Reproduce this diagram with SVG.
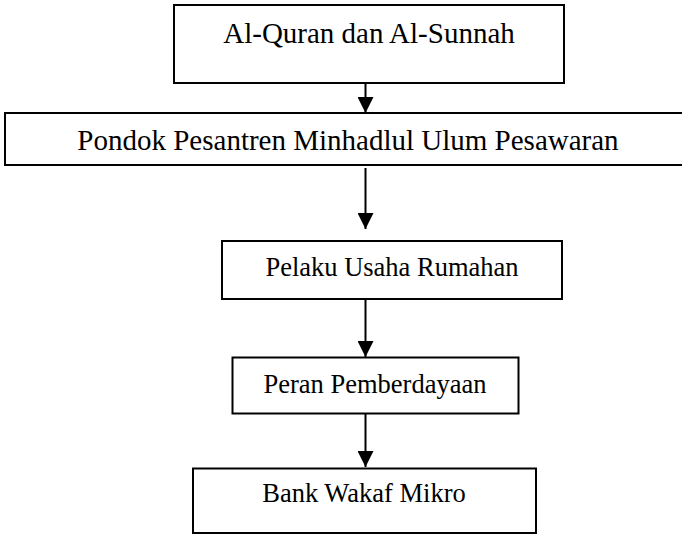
<svg xmlns="http://www.w3.org/2000/svg" width="682" height="535" viewBox="0 0 682 535">
<style>
.box{fill:#fff;stroke:#000;stroke-width:2}
.t1{font-family:"Liberation Serif","Times New Roman",serif;font-size:29px;fill:#000;text-anchor:middle}
.t2{font-family:"Liberation Serif","Times New Roman",serif;font-size:26.5px;fill:#000;text-anchor:middle}
.conn{stroke:#000;stroke-width:2;fill:none;marker-end:url(#ah)}
</style>
<defs>
<marker id="ah" markerUnits="userSpaceOnUse" markerWidth="16" markerHeight="16" refX="16" refY="8" orient="auto" viewBox="0 0 16 16">
<path d="M0,0 L16,8 L0,16 z" fill="#000"/>
</marker>
</defs>
<rect width="682" height="535" fill="#fff"/>
<g id="connectors">
<path class="conn" d="M365.5,83 L365.5,113"/>
<path class="conn" d="M365.5,168 L365.5,229"/>
<path class="conn" d="M365.5,299 L365.5,357"/>
<path class="conn" d="M365.5,413 L365.5,467"/>
</g>
<g id="n1">
<rect class="box" x="174" y="5" width="390" height="78"/>
<text class="t1" x="369" y="43">Al-Quran dan Al-Sunnah</text>
</g>
<g id="n2">
<rect class="box" x="5" y="113" width="690" height="52"/>
<text class="t1" x="348" y="150">Pondok Pesantren Minhadlul Ulum Pesawaran</text>
</g>
<g id="n3">
<rect class="box" x="222" y="241" width="340" height="58"/>
<text class="t2" x="392" y="276">Pelaku Usaha Rumahan</text>
</g>
<g id="n4">
<rect class="box" x="232.5" y="357.5" width="286" height="56"/>
<text class="t2" x="375" y="392.5">Peran Pemberdayaan</text>
</g>
<g id="n5">
<rect class="box" x="193" y="468.5" width="343" height="64.5"/>
<text class="t2" x="364" y="501.5">Bank Wakaf Mikro</text>
</g>
</svg>
